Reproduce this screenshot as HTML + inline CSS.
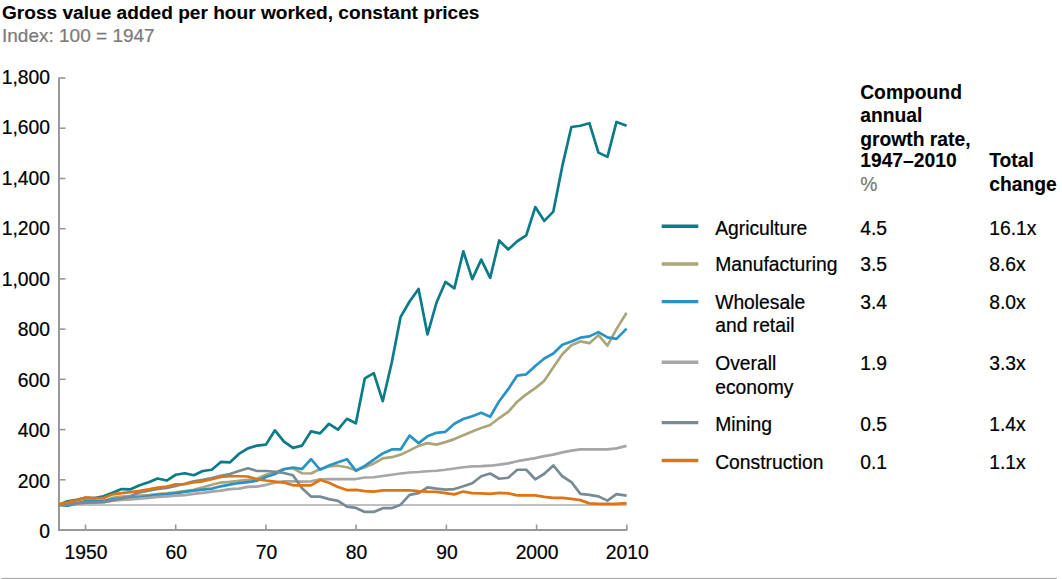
<!DOCTYPE html>
<html><head><meta charset="utf-8"><title>Gross value added per hour worked</title>
<style>
html,body{margin:0;padding:0;background:#fff;}
body{width:1062px;height:579px;overflow:hidden;position:relative;}
svg{position:absolute;left:0;top:0;}
text{font-family:"Liberation Sans",Arial,Helvetica,sans-serif;fill:#000;stroke:#000;stroke-width:0.22px;}
.b{stroke-width:0.1px;}
.b{font-weight:bold;}
.g{fill:#7a7a7a;stroke:#7a7a7a;}
</style></head><body>
<svg width="1062" height="579" viewBox="0 0 1062 579">

<text class="b" x="2" y="18.7" font-size="19.1">Gross value added per hour worked, constant prices</text>
<text class="g" x="2" y="41.7" font-size="19.0">Index: 100 = 1947</text>
<line x1="59" y1="77.5" x2="59" y2="531" stroke="#999" stroke-width="2"/>
<line x1="58" y1="530" x2="627.3" y2="530" stroke="#999" stroke-width="2"/>
<line x1="59" y1="479.8" x2="65.5" y2="479.8" stroke="#999" stroke-width="1.6"/>
<line x1="59" y1="429.6" x2="65.5" y2="429.6" stroke="#999" stroke-width="1.6"/>
<line x1="59" y1="379.3" x2="65.5" y2="379.3" stroke="#999" stroke-width="1.6"/>
<line x1="59" y1="329.1" x2="65.5" y2="329.1" stroke="#999" stroke-width="1.6"/>
<line x1="59" y1="278.9" x2="65.5" y2="278.9" stroke="#999" stroke-width="1.6"/>
<line x1="59" y1="228.7" x2="65.5" y2="228.7" stroke="#999" stroke-width="1.6"/>
<line x1="59" y1="178.5" x2="65.5" y2="178.5" stroke="#999" stroke-width="1.6"/>
<line x1="59" y1="128.2" x2="65.5" y2="128.2" stroke="#999" stroke-width="1.6"/>
<line x1="59" y1="78.0" x2="65.5" y2="78.0" stroke="#999" stroke-width="1.6"/>
<line x1="85.5" y1="524.5" x2="85.5" y2="530" stroke="#999" stroke-width="1.6"/>
<line x1="175.7" y1="524.5" x2="175.7" y2="530" stroke="#999" stroke-width="1.6"/>
<line x1="265.9" y1="524.5" x2="265.9" y2="530" stroke="#999" stroke-width="1.6"/>
<line x1="356.1" y1="524.5" x2="356.1" y2="530" stroke="#999" stroke-width="1.6"/>
<line x1="446.4" y1="524.5" x2="446.4" y2="530" stroke="#999" stroke-width="1.6"/>
<line x1="536.6" y1="524.5" x2="536.6" y2="530" stroke="#999" stroke-width="1.6"/>
<line x1="626.8" y1="524.5" x2="626.8" y2="530" stroke="#999" stroke-width="1.6"/>
<text x="50.0" y="538.0" font-size="19.3" text-anchor="end">0</text>
<text x="50.0" y="487.5" font-size="19.3" text-anchor="end">200</text>
<text x="50.0" y="437.2" font-size="19.3" text-anchor="end">400</text>
<text x="50.0" y="387.0" font-size="19.3" text-anchor="end">600</text>
<text x="50.0" y="336.3" font-size="19.3" text-anchor="end">800</text>
<text x="50.0" y="286.4" font-size="19.3" text-anchor="end">1,000</text>
<text x="50.0" y="235.4" font-size="19.3" text-anchor="end">1,200</text>
<text x="50.0" y="184.5" font-size="19.3" text-anchor="end">1,400</text>
<text x="50.0" y="133.9" font-size="19.3" text-anchor="end">1,600</text>
<text x="50.0" y="83.9" font-size="19.3" text-anchor="end">1,800</text>
<text x="86.0" y="558.8" font-size="19.3" text-anchor="middle">1950</text>
<text x="176.2" y="558.8" font-size="19.3" text-anchor="middle">60</text>
<text x="266.4" y="558.8" font-size="19.3" text-anchor="middle">70</text>
<text x="356.6" y="558.8" font-size="19.3" text-anchor="middle">80</text>
<text x="446.9" y="558.8" font-size="19.3" text-anchor="middle">90</text>
<text x="537.1" y="558.8" font-size="19.3" text-anchor="middle">2000</text>
<text x="627.3" y="558.8" font-size="19.3" text-anchor="middle">2010</text>
<line x1="59" y1="504.9" x2="626.8" y2="504.9" stroke="#aaa" stroke-width="1.5"/>
<polyline points="58.43,504.89 67.45,501.37 76.47,499.87 85.50,497.86 94.52,498.11 103.54,496.35 112.56,492.84 121.58,489.07 130.60,489.32 139.63,485.30 148.65,482.29 157.67,478.52 166.69,480.53 175.71,474.76 184.73,473.25 193.76,475.26 202.78,470.99 211.80,469.74 220.82,461.95 229.84,462.45 238.86,453.92 247.89,448.39 256.91,445.63 265.93,444.63 274.95,430.31 283.97,441.61 292.99,447.89 302.02,445.63 311.04,431.32 320.06,433.33 329.01,423.78 337.97,429.56 346.92,418.76 355.87,423.28 364.83,378.34 373.78,373.06 382.73,401.19 391.69,362.77 400.64,316.82 409.59,301.50 418.55,288.94 427.50,334.39 436.45,302.75 445.41,281.91 454.36,288.44 463.31,251.28 472.27,279.15 481.22,259.57 490.17,277.90 499.19,240.48 508.21,249.52 517.24,241.24 526.26,235.46 535.28,207.09 544.30,220.90 553.32,211.61 562.35,165.91 571.37,126.98 580.39,125.73 589.41,123.22 598.43,152.60 607.45,156.87 616.48,121.96 626.60,125.73" fill="none" stroke="#0a7b87" stroke-width="2.7" stroke-linejoin="round" stroke-linecap="butt"/>
<polyline points="58.43,504.89 67.45,504.64 76.47,503.63 85.50,502.13 94.52,501.63 103.54,501.63 112.56,497.86 121.58,496.60 130.60,496.10 139.63,495.60 148.65,495.10 157.67,494.09 166.69,493.34 175.71,492.33 184.73,491.08 193.76,489.82 202.78,487.31 211.80,484.80 220.82,482.54 229.84,481.79 238.86,480.78 247.89,479.78 256.91,478.78 265.93,474.76 274.95,472.50 283.97,468.98 292.99,468.23 302.02,473.25 311.04,473.50 320.06,468.98 329.01,466.47 337.97,465.72 346.92,467.23 355.87,470.24 364.83,467.23 373.78,463.46 382.73,458.44 391.69,457.18 400.64,454.67 409.59,450.40 418.55,445.88 427.50,443.12 436.45,444.63 445.41,442.12 454.36,439.10 463.31,435.34 472.27,431.57 481.22,428.05 490.17,425.04 499.19,418.01 508.21,411.98 517.24,401.69 526.26,394.41 535.28,388.13 544.30,380.85 553.32,367.29 562.35,354.23 571.37,345.19 580.39,341.42 589.41,343.18 598.43,335.15 607.45,345.69 616.48,329.12 626.60,312.80" fill="none" stroke="#aba678" stroke-width="2.7" stroke-linejoin="round" stroke-linecap="butt"/>
<polyline points="58.43,504.89 67.45,505.89 76.47,503.38 85.50,501.12 94.52,500.87 103.54,500.87 112.56,499.37 121.58,498.36 130.60,497.86 139.63,497.36 148.65,496.10 157.67,494.85 166.69,494.09 175.71,493.09 184.73,491.83 193.76,490.58 202.78,489.57 211.80,488.57 220.82,486.31 229.84,484.55 238.86,483.04 247.89,482.04 256.91,480.78 265.93,477.02 274.95,474.00 283.97,469.23 292.99,467.48 302.02,468.98 311.04,459.19 320.06,469.74 329.01,465.47 337.97,462.20 346.92,459.19 355.87,470.74 364.83,465.97 373.78,459.69 382.73,453.41 391.69,449.40 400.64,449.40 409.59,435.59 418.55,443.12 427.50,436.34 436.45,432.82 445.41,431.82 454.36,423.78 463.31,419.01 472.27,416.25 481.22,412.74 490.17,416.75 499.19,401.19 508.21,389.13 517.24,375.57 526.26,374.32 535.28,366.03 544.30,358.50 553.32,353.48 562.35,344.69 571.37,341.42 580.39,337.66 589.41,336.40 598.43,332.13 607.45,337.41 616.48,338.91 626.60,328.62" fill="none" stroke="#2a93c6" stroke-width="2.7" stroke-linejoin="round" stroke-linecap="butt"/>
<polyline points="58.43,504.89 67.45,503.89 76.47,503.63 85.50,502.88 94.52,502.63 103.54,502.13 112.56,500.62 121.58,499.87 130.60,499.37 139.63,498.61 148.65,497.86 157.67,496.85 166.69,496.35 175.71,495.60 184.73,495.10 193.76,493.84 202.78,492.84 211.80,491.58 220.82,490.58 229.84,489.07 238.86,488.57 247.89,486.81 256.91,486.56 265.93,484.80 274.95,482.79 283.97,481.29 292.99,481.29 302.02,481.54 311.04,481.29 320.06,479.28 329.01,479.03 337.97,479.03 346.92,479.03 355.87,479.03 364.83,477.52 373.78,477.27 382.73,476.01 391.69,474.76 400.64,473.50 409.59,472.50 418.55,472.00 427.50,471.24 436.45,470.74 445.41,469.74 454.36,468.48 463.31,467.23 472.27,466.47 481.22,466.22 490.17,465.72 499.19,464.71 508.21,463.46 517.24,461.20 526.26,459.69 535.28,458.19 544.30,456.18 553.32,454.67 562.35,452.41 571.37,450.65 580.39,449.40 589.41,449.40 598.43,449.40 607.45,449.40 616.48,448.39 626.60,445.88" fill="none" stroke="#a6a6a6" stroke-width="2.7" stroke-linejoin="round" stroke-linecap="butt"/>
<polyline points="58.43,504.89 67.45,504.14 76.47,503.38 85.50,502.63 94.52,502.38 103.54,502.13 112.56,500.37 121.58,498.36 130.60,496.35 139.63,492.33 148.65,490.58 157.67,488.82 166.69,487.82 175.71,485.81 184.73,483.80 193.76,481.29 202.78,479.78 211.80,478.02 220.82,475.76 229.84,474.00 238.86,470.99 247.89,468.23 256.91,470.99 265.93,470.99 274.95,471.74 283.97,473.00 292.99,475.26 302.02,488.32 311.04,496.60 320.06,496.60 329.01,499.11 337.97,500.87 346.92,506.65 355.87,507.90 364.83,511.92 373.78,511.92 382.73,508.15 391.69,508.15 400.64,504.64 409.59,494.85 418.55,493.09 427.50,487.31 436.45,488.57 445.41,489.57 454.36,489.07 463.31,486.31 472.27,483.30 481.22,476.26 490.17,473.50 499.19,478.78 508.21,477.77 517.24,469.74 526.26,469.74 535.28,479.28 544.30,473.75 553.32,465.47 562.35,476.26 571.37,482.04 580.39,493.84 589.41,494.85 598.43,496.35 607.45,500.62 616.48,494.09 626.60,495.60" fill="none" stroke="#778b97" stroke-width="2.7" stroke-linejoin="round" stroke-linecap="butt"/>
<polyline points="58.43,504.89 67.45,502.38 76.47,500.37 85.50,497.61 94.52,498.11 103.54,498.11 112.56,494.34 121.58,493.09 130.60,492.08 139.63,490.83 148.65,489.32 157.67,487.56 166.69,486.56 175.71,484.30 184.73,484.05 193.76,482.29 202.78,481.29 211.80,479.28 220.82,477.02 229.84,476.26 238.86,476.26 247.89,476.52 256.91,479.28 265.93,480.53 274.95,481.54 283.97,482.54 292.99,485.30 302.02,485.30 311.04,485.30 320.06,480.03 329.01,482.79 337.97,487.06 346.92,490.08 355.87,489.82 364.83,491.08 373.78,491.58 382.73,490.33 391.69,490.33 400.64,490.33 409.59,490.33 418.55,491.08 427.50,491.58 436.45,491.83 445.41,493.09 454.36,494.34 463.31,491.58 472.27,493.09 481.22,493.34 490.17,493.84 499.19,492.84 508.21,493.34 517.24,495.35 526.26,495.35 535.28,495.35 544.30,496.85 553.32,497.86 562.35,497.86 571.37,498.86 580.39,500.12 589.41,503.38 598.43,503.89 607.45,503.89 616.48,503.89 626.60,503.13" fill="none" stroke="#dd7415" stroke-width="2.7" stroke-linejoin="round" stroke-linecap="butt"/>
<line x1="661.7" y1="226.2" x2="698.3" y2="226.2" stroke="#0a7b87" stroke-width="3.4"/>
<text x="715.2" y="234.5" font-size="19.3">Agriculture</text>
<text x="860.2" y="234.5" font-size="19.3">4.5</text>
<text x="989.2" y="234.5" font-size="19.3">16.1x</text>
<line x1="661.7" y1="264.0" x2="698.3" y2="264.0" stroke="#aba678" stroke-width="3.4"/>
<text x="715.2" y="271.2" font-size="19.3">Manufacturing</text>
<text x="860.2" y="271.2" font-size="19.3">3.5</text>
<text x="989.2" y="271.2" font-size="19.3">8.6x</text>
<line x1="661.7" y1="301.6" x2="698.3" y2="301.6" stroke="#2a93c6" stroke-width="3.4"/>
<text x="715.2" y="308.8" font-size="19.3">Wholesale</text>
<text x="715.2" y="332.3" font-size="19.3">and retail</text>
<text x="860.2" y="308.8" font-size="19.3">3.4</text>
<text x="989.2" y="308.8" font-size="19.3">8.0x</text>
<line x1="661.7" y1="362.2" x2="698.3" y2="362.2" stroke="#a6a6a6" stroke-width="3.4"/>
<text x="715.2" y="370.0" font-size="19.3">Overall</text>
<text x="715.2" y="393.5" font-size="19.3">economy</text>
<text x="860.2" y="370.0" font-size="19.3">1.9</text>
<text x="989.2" y="370.0" font-size="19.3">3.3x</text>
<line x1="661.7" y1="422.6" x2="698.3" y2="422.6" stroke="#778b97" stroke-width="3.4"/>
<text x="715.2" y="431.2" font-size="19.3">Mining</text>
<text x="860.2" y="431.2" font-size="19.3">0.5</text>
<text x="989.2" y="431.2" font-size="19.3">1.4x</text>
<line x1="661.7" y1="460.5" x2="698.3" y2="460.5" stroke="#dd7415" stroke-width="3.4"/>
<text x="715.2" y="468.9" font-size="19.3">Construction</text>
<text x="860.2" y="468.9" font-size="19.3">0.1</text>
<text x="989.2" y="468.9" font-size="19.3">1.1x</text>
<text class="b" x="860.2" y="98.9" font-size="19.3">Compound</text>
<text class="b" x="860.2" y="122.2" font-size="19.3">annual</text>
<text class="b" x="860.2" y="145.5" font-size="19.3">growth rate,</text>
<text class="b" x="860.2" y="167.4" font-size="19.3">1947–2010</text>
<text class="g" x="860.2" y="190.6" font-size="19.3">%</text>
<text class="b" x="989.2" y="167.4" font-size="19.3">Total</text>
<text class="b" x="989.2" y="190.6" font-size="19.3">change</text>
<rect x="1.5" y="577.9" width="1055.5" height="1.1" fill="#a8a8a8"/>
</svg></body></html>
